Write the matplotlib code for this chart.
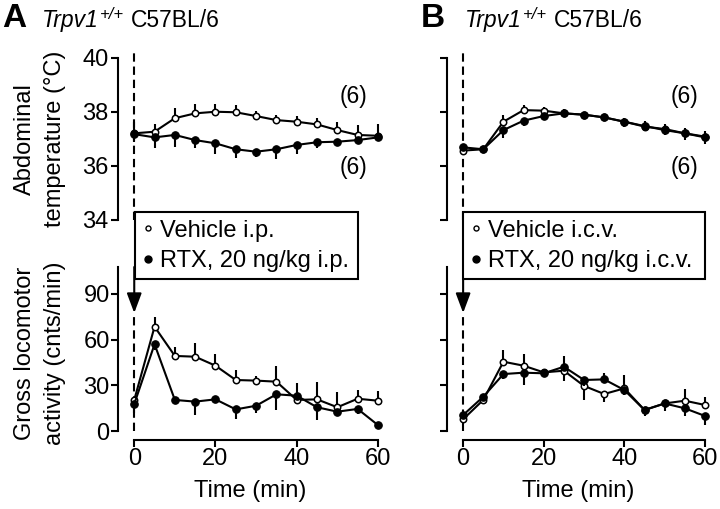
import numpy as np
import matplotlib
matplotlib.use("Agg")
import matplotlib.pyplot as plt
from matplotlib.lines import Line2D

plt.rcParams['font.family'] = ['Liberation Sans', 'DejaVu Sans']
plt.rcParams['font.size'] = 17
plt.rcParams['lines.scale_dashes'] = False

# ---- DATA ----
time = [0, 5, 10, 15, 20, 25, 30, 35, 40, 45, 50, 55, 60]

# panel A, abdominal temperature (C)
temp_veh_a = [37.21, 37.27, 37.77, 37.95, 38.01, 37.99, 37.85, 37.70, 37.64, 37.54, 37.33, 37.15, 37.12]
temp_veh_a_err = [0.43, 0.3, 0.37, 0.35, 0.28, 0.27, 0.2, 0.2, 0.2, 0.22, 0.3, 0.37, 0.43]
temp_veh_a_dir = [1] * 13
temp_rtx_a = [37.18, 37.06, 37.15, 36.96, 36.84, 36.62, 36.53, 36.62, 36.78, 36.88, 36.90, 36.96, 37.06]
temp_rtx_a_err = [0.3, 0.41, 0.43, 0.3, 0.4, 0.33, 0.2, 0.37, 0.33, 0.2, 0.15, 0.1, 0.1]
temp_rtx_a_dir = [-1] * 13

# panel B, abdominal temperature (C)
temp_veh_b = [36.57, 36.62, 37.64, 38.07, 38.05, 37.95, 37.90, 37.80, 37.64, 37.46, 37.37, 37.21, 37.09]
temp_veh_b_err = [0.1, 0.1, 0.25, 0.2, 0.15, 0.15, 0.1, 0.1, 0.15, 0.2, 0.2, 0.2, 0.2]
temp_veh_b_dir = [1] * 13
temp_rtx_b = [36.69, 36.62, 37.33, 37.68, 37.85, 37.95, 37.90, 37.80, 37.64, 37.48, 37.33, 37.21, 37.06]
temp_rtx_b_err = [0.1, 0.15, 0.3, 0.2, 0.15, 0.1, 0.1, 0.15, 0.2, 0.2, 0.2, 0.25, 0.25]
temp_rtx_b_dir = [-1] * 13

# panel A, locomotor activity (cnts/min)
act_veh_a = [20.4, 68.5, 49.3, 48.8, 42.9, 33.5, 33.1, 32.4, 20.4, 20.8, 15.6, 21.2, 19.9]
act_veh_a_err = [2, 6.6, 6, 9.2, 8, 6.6, 3, 10, 11, 11.6, 10, 6, 6.6]
act_veh_a_dir = [1] * 13
act_rtx_a = [17.7, 57, 20.4, 19.3, 20.8, 14.2, 16.6, 24.1, 23.2, 15.6, 12.7, 14.5, 3.9]
act_rtx_a_err = [6, 4, 2, 8.8, 2, 6, 5, 10, 3, 8.3, 3, 3, 2]
act_rtx_a_dir = [-1] * 13

# panel B, locomotor activity (cnts/min)
act_veh_b = [7.7, 20.4, 45.5, 42.9, 38.5, 39.6, 29.6, 24.3, 28.0, 13.8, 18.1, 19.9, 17.1]
act_veh_b_err = [2, 2, 7.6, 8, 2, 7, 9, 5, 9, 2, 2, 8, 5.5]
act_veh_b_dir = [1, 1, 1, 1, 1, -1, -1, -1, 1, 1, 1, 1, 1]
act_rtx_b = [10.5, 22.5, 37.4, 38.3, 37.9, 42.2, 33.5, 33.9, 26.9, 13.8, 18.1, 14.9, 9.9]
act_rtx_b_err = [2, 2, 3, 8, 2, 7, 4, 4, 3, 4, 5, 5, 6]
act_rtx_b_dir = [-1, -1, -1, -1, -1, 1, -1, 1, -1, -1, -1, -1, -1]

temp_ticks = [34, 36, 38, 40]
act_ticks = [0, 30, 60, 90]
time_ticks = [0, 20, 40, 60]
n_label = "(6)"

W, H = 720, 509
fig = plt.figure(figsize=(W / 100, H / 100), dpi=100)
FS = 17


def px_axes(left, top, right, bottom):
    ax = fig.add_axes([left / W, 1 - bottom / H, (right - left) / W, (bottom - top) / H])
    ax.patch.set_alpha(0)
    return ax


def split_err(err, direction):
    err = np.array(err, dtype=float)
    d = np.array(direction)
    return [np.where(d < 0, err, 0), np.where(d > 0, err, 0)]


def draw_series(ax, y, err, direction, filled):
    if filled:
        kw = dict(mfc="black", ms=5.4, mew=0.8, zorder=4)
    else:
        kw = dict(mfc="white", ms=4.6, mew=1.1, zorder=3)
    ax.errorbar(time, y, yerr=split_err(err, direction), fmt="-o", color="black",
                mec="black", lw=1.5, elinewidth=1.5, capsize=0, clip_on=False, **kw)


def style_top(ax, show_labels):
    ax.set_xlim(-4, 61)
    ax.set_ylim(34, 40)
    for s in ["top", "right", "bottom"]:
        ax.spines[s].set_visible(False)
    ax.spines["left"].set_linewidth(1.5)
    ax.set_xticks([])
    ax.set_yticks(temp_ticks)
    ax.tick_params(axis="y", length=5, width=1.5, pad=2, labelsize=FS)
    if not show_labels:
        ax.set_yticklabels([])
    ax.axvline(0, ymin=0, ymax=1.03, color="black", lw=1.5, dashes=(6, 3.5), clip_on=False, zorder=1)


def style_bottom(ax, show_labels):
    ax.set_xlim(-4, 61)
    ax.set_ylim(-5.9, 107.7)
    for s in ["top", "right"]:
        ax.spines[s].set_visible(False)
    ax.spines["left"].set_linewidth(1.5)
    ax.spines["bottom"].set_linewidth(1.5)
    ax.spines["left"].set_bounds(0, 107.7)
    ax.spines["bottom"].set_bounds(0, 60)
    ax.set_xticks(time_ticks)
    ax.set_yticks(act_ticks)
    ax.tick_params(length=5, width=1.5, pad=1, labelsize=FS)
    if not show_labels:
        ax.set_yticklabels([])
    ax.set_xlabel("Time (min)", fontsize=FS, labelpad=7)
    ax.plot([0, 0], [0, 77.5], color="black", lw=1.5, dashes=(6, 3.5), clip_on=False, zorder=1)
    ax.annotate("", xy=(0, 77.5), xytext=(0, 107.7), annotation_clip=False,
                arrowprops=dict(arrowstyle="-|>,head_length=1.2,head_width=0.45",
                                mutation_scale=10, lw=1.5, color="black",
                                shrinkA=0, shrinkB=0))


# ---- PANEL A ----
ax_a1 = px_axes(118, 58, 382, 220)
ax_a2 = px_axes(118, 267, 382, 440)
# ---- PANEL B ----
ax_b1 = px_axes(447, 58, 709, 220)
ax_b2 = px_axes(447, 267, 709, 440)

style_top(ax_a1, True)
style_top(ax_b1, False)
style_bottom(ax_a2, True)
style_bottom(ax_b2, False)

draw_series(ax_a1, temp_veh_a, temp_veh_a_err, temp_veh_a_dir, False)
draw_series(ax_a1, temp_rtx_a, temp_rtx_a_err, temp_rtx_a_dir, True)
draw_series(ax_b1, temp_veh_b, temp_veh_b_err, temp_veh_b_dir, False)
draw_series(ax_b1, temp_rtx_b, temp_rtx_b_err, temp_rtx_b_dir, True)
draw_series(ax_a2, act_veh_a, act_veh_a_err, act_veh_a_dir, False)
draw_series(ax_a2, act_rtx_a, act_rtx_a_err, act_rtx_a_dir, True)
draw_series(ax_b2, act_veh_b, act_veh_b_err, act_veh_b_dir, False)
draw_series(ax_b2, act_rtx_b, act_rtx_b_err, act_rtx_b_dir, True)

for ax, xc in [(ax_a1, 54), (ax_b1, 55)]:
    ax.text(xc, 38.57, n_label, ha="center", va="center", fontsize=16.5)
    ax.text(xc, 35.95, n_label, ha="center", va="center", fontsize=16.5)

ylab_x = (40 - 118) / 264
ax_a1.set_ylabel("Abdominal\ntemperature (°C)", fontsize=FS, linespacing=1.5, va="center")
ax_a1.yaxis.set_label_coords(ylab_x, 0.5)
ax_a2.set_ylabel("Gross locomotor\nactivity (cnts/min)", fontsize=FS, linespacing=1.5, va="center")
ax_a2.yaxis.set_label_coords(ylab_x, 0.5)

# titles: bold letter, italic gene name, superscript genotype, strain
renderer = fig.canvas.get_renderer()


def title(x_letter, x_text, letter):
    base = 1 - 27 / H
    fig.text(x_letter / W, base, letter, weight="bold", size=24, va="baseline")
    t1 = fig.text(x_text / W, base, "Trpv1", style="italic", size=16.5, va="baseline")
    x = t1.get_window_extent(renderer).x1 + 1
    t2 = fig.text(x / W, base + 8 / H, "+/+", style="italic", size=12, va="baseline")
    x = t2.get_window_extent(renderer).x1 + 7
    fig.text(x / W, base, "C57BL/6", size=16.5, va="baseline")


title(2, 42, "A")
title(421, 465, "B")

# legends
h_veh = Line2D([], [], ls="none", marker="o", mfc="white", mec="black", ms=3.6, mew=1.0)
h_rtx = Line2D([], [], ls="none", marker="o", mfc="black", mec="black", ms=5.0)
for (x0, x1), labels in [((135, 358), ["Vehicle i.p.", "RTX, 20 ng/kg i.p."]),
                         ((463, 705), ["Vehicle i.c.v.", "RTX, 20 ng/kg i.c.v."])]:
    leg = fig.legend([h_veh, h_rtx], labels, loc="upper left", mode="expand",
                     bbox_to_anchor=(x0 / W, 1 - 213 / H, (x1 - x0) / W, 0.001),
                     borderaxespad=0, fancybox=False, framealpha=1, edgecolor="black",
                     handlelength=0.5, handletextpad=0.25, borderpad=0.3,
                     labelspacing=0.35, fontsize=FS)
    leg.get_frame().set_linewidth(1.5)

fig.savefig("out.png", dpi=100)
